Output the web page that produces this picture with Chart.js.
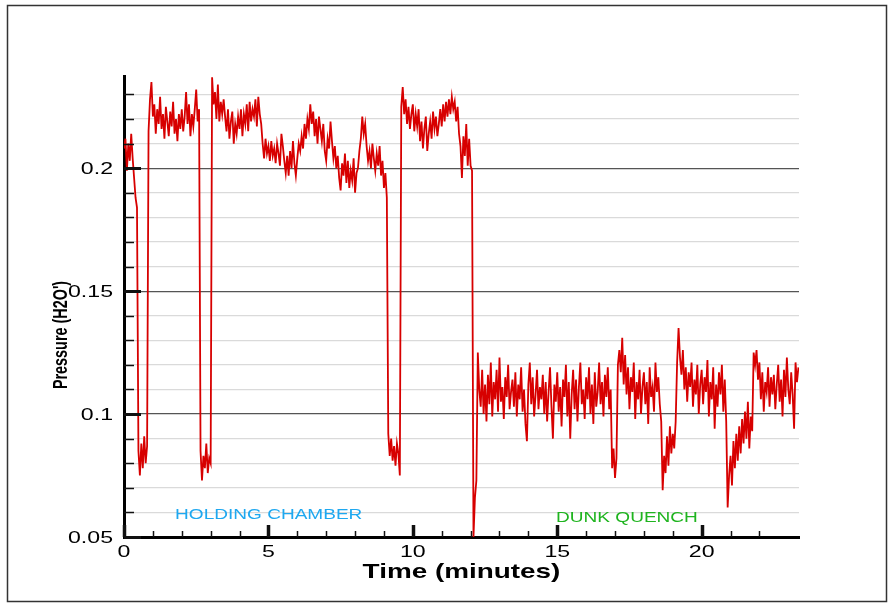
<!DOCTYPE html>
<html>
<head>
<meta charset="utf-8">
<script src="https://cdn.jsdelivr.net/npm/chart.js@4/dist/chart.umd.min.js"></script>
<style>
  body { margin: 0; background: #fff; }
  canvas { display: block; }
</style>
</head>
<body>
<canvas id="chart" width="896" height="605"></canvas>
<script>
const sampleStep = 0.05;
const pressure = [
  0.208,0.212,0.199,0.210,0.203,0.214,0.204,0.196,0.188,0.184,
  0.085,0.075,0.088,0.078,0.091,0.080,0.087,0.215,0.228,0.235,
  0.221,0.226,0.214,0.224,0.218,0.229,0.216,0.222,0.212,0.225,
  0.219,0.213,0.223,0.217,0.227,0.214,0.220,0.211,0.222,0.216,
  0.224,0.215,0.221,0.231,0.218,0.226,0.213,0.222,0.217,0.224,
  0.232,0.219,0.224,0.085,0.073,0.083,0.078,0.088,0.076,0.082,
  0.080,0.237,0.226,0.231,0.220,0.234,0.219,0.227,0.222,0.228,
  0.221,0.215,0.224,0.212,0.219,0.223,0.210,0.218,0.214,0.221,
  0.216,0.224,0.213,0.222,0.218,0.226,0.215,0.227,0.219,0.224,
  0.221,0.228,0.217,0.229,0.222,0.218,0.210,0.204,0.212,0.206,
  0.209,0.203,0.211,0.205,0.208,0.202,0.210,0.206,0.201,0.214,
  0.209,0.203,0.198,0.205,0.197,0.207,0.200,0.211,0.202,0.197,
  0.204,0.210,0.207,0.213,0.208,0.218,0.212,0.220,0.216,0.226,
  0.218,0.223,0.213,0.220,0.210,0.221,0.216,0.211,0.218,0.207,
  0.203,0.212,0.208,0.219,0.211,0.204,0.209,0.200,0.205,0.196,
  0.191,0.202,0.197,0.206,0.194,0.203,0.192,0.199,0.195,0.204,
  0.190,0.198,0.200,0.207,0.212,0.221,0.214,0.218,0.209,0.203,
  0.207,0.200,0.210,0.204,0.199,0.206,0.201,0.209,0.197,0.203,
  0.192,0.198,0.188,0.092,0.083,0.090,0.081,0.087,0.079,0.088,
  0.084,0.075,0.225,0.233,0.222,0.228,0.218,0.225,0.216,0.222,
  0.226,0.215,0.222,0.217,0.224,0.211,0.219,0.208,0.216,0.221,
  0.207,0.214,0.219,0.212,0.223,0.216,0.221,0.213,0.218,0.224,
  0.217,0.226,0.219,0.227,0.221,0.228,0.222,0.229,0.224,0.227,
  0.219,0.225,0.214,0.209,0.196,0.213,0.205,0.218,0.201,0.212,
  0.201,0.199,0.050,0.066,0.073,0.125,0.110,0.103,0.118,0.100,
  0.112,0.097,0.116,0.104,0.121,0.099,0.113,0.106,0.118,0.101,
  0.123,0.105,0.111,0.098,0.115,0.107,0.120,0.102,0.109,0.114,
  0.103,0.117,0.099,0.112,0.106,0.119,0.101,0.110,0.096,0.089,
  0.112,0.121,0.104,0.115,0.099,0.108,0.118,0.102,0.111,0.106,
  0.116,0.100,0.113,0.097,0.109,0.119,0.103,0.090,0.112,0.105,
  0.117,0.101,0.111,0.095,0.114,0.107,0.120,0.099,0.113,0.090,
  0.108,0.118,0.102,0.114,0.097,0.111,0.121,0.104,0.110,0.098,
  0.115,0.106,0.119,0.100,0.112,0.096,0.117,0.103,0.109,0.121,
  0.104,0.113,0.099,0.116,0.107,0.119,0.102,0.110,0.078,0.086,
  0.074,0.082,0.120,0.126,0.117,0.131,0.112,0.124,0.108,0.119,
  0.102,0.115,0.109,0.121,0.098,0.113,0.106,0.118,0.100,0.111,
  0.117,0.104,0.113,0.096,0.119,0.107,0.111,0.101,0.121,0.109,
  0.115,0.104,0.097,0.069,0.083,0.076,0.091,0.079,0.095,0.084,
  0.092,0.086,0.097,0.121,0.135,0.123,0.116,0.126,0.110,0.119,
  0.105,0.117,0.111,0.121,0.103,0.114,0.108,0.120,0.100,0.112,
  0.118,0.104,0.115,0.109,0.122,0.099,0.113,0.106,0.119,0.094,
  0.112,0.103,0.117,0.108,0.120,0.101,0.114,0.097,0.062,0.075,
  0.083,0.071,0.089,0.078,0.092,0.081,0.095,0.084,0.098,0.088,
  0.101,0.090,0.105,0.086,0.099,0.093,0.125,0.120,0.126,0.114,
  0.121,0.106,0.117,0.101,0.113,0.109,0.119,0.103,0.115,0.108,
  0.116,0.102,0.112,0.120,0.105,0.114,0.099,0.118,0.107,0.123,
  0.110,0.104,0.117,0.108,0.094,0.121,0.113,0.119
];

const xLabelTicks = [0, 5, 10, 15, 20];
const yLabelTicks = [0.05, 0.1, 0.15, 0.2];
const yLabelText = ['0.05', '0.1', '0.15', '0.2'];

// text notes on the plot: label, time (min), pressure
const noteText = ['HOLDING CHAMBER', 'DUNK QUENCH'];
const noteTime = [1.77, 14.96];
const noteValue = [0.0573, 0.0563];
const noteColor = ['#1ea8f0', '#1fb41f'];

const FONT = '"Liberation Sans", Arial, Helvetica, sans-serif';
const STRETCH = 1.36; // glyphs in the original are wider than tall

function isMultiple(v, step) {
    const k = v / step;
    return Math.abs(k - Math.round(k)) < 1e-6;
}

function drawText(ctx, text, x, y, font, color, align, baseline, rotate) {
    ctx.save();
    ctx.font = font;
    ctx.fillStyle = color;
    ctx.textAlign = align;
    ctx.textBaseline = baseline;
    ctx.translate(x, y);
    ctx.scale(STRETCH, 1);
    if (rotate) ctx.rotate(-Math.PI / 2);
    ctx.fillText(text, 0, 0);
    ctx.restore();
}

// inward ticks, labels, titles, notes and frame
const decorations = {
    id: 'decorations',
    afterDraw(chart) {
        const ctx = chart.ctx;
        const xs = chart.scales.x;
        const ys = chart.scales.y;
        const area = chart.chartArea;

        ctx.save();
        ctx.strokeStyle = '#111';
        ctx.lineCap = 'butt';
        ys.ticks.forEach(t => {
            if (!isMultiple(t.value, 0.01)) return;
            const y = Math.round(ys.getPixelForValue(t.value)) + 0.5;
            const major = isMultiple(t.value, 0.05);
            ctx.lineWidth = major ? 3 : 1.5;
            ctx.beginPath();
            ctx.moveTo(area.left, y);
            ctx.lineTo(area.left + (major ? 17 : 10), y);
            ctx.stroke();
        });
        xs.ticks.forEach(t => {
            if (!isMultiple(t.value, 1)) return;
            const x = Math.round(xs.getPixelForValue(t.value)) + 0.5;
            const major = isMultiple(t.value, 5);
            ctx.lineWidth = major ? 3.5 : 1.5;
            ctx.beginPath();
            ctx.moveTo(x, area.bottom);
            ctx.lineTo(x, area.bottom - (major ? 12 : 6));
            ctx.stroke();
        });
        ctx.restore();

        yLabelTicks.forEach((v, i) => {
            drawText(ctx, yLabelText[i], 113, ys.getPixelForValue(v) + 6,
                '17px ' + FONT, '#000', 'right', 'alphabetic', false);
        });
        xLabelTicks.forEach(v => {
            drawText(ctx, String(v), xs.getPixelForValue(v), 557,
                '17px ' + FONT, '#000', 'center', 'alphabetic', false);
        });

        drawText(ctx, 'Time (minutes)', (area.left + area.right) / 2, 578,
            'bold 20.5px ' + FONT, '#000', 'center', 'alphabetic', false);
        drawText(ctx, "Pressure (H2O')", 62, 335,
            'bold 14.4px ' + FONT, '#000', 'center', 'middle', true);

        noteText.forEach((txt, i) => {
            drawText(ctx, txt, xs.getPixelForValue(noteTime[i]), ys.getPixelForValue(noteValue[i]),
                '14px ' + FONT, noteColor[i], 'left', 'alphabetic', false);
        });

        ctx.save();
        ctx.strokeStyle = '#333';
        ctx.lineWidth = 1.5;
        ctx.strokeRect(7.5, 5.5, 879, 596);
        ctx.restore();
    }
};

const points = pressure.map((p, i) => ({ x: i * sampleStep, y: p }));

new Chart(document.getElementById('chart'), {
    type: 'line',
    data: {
        datasets: [{
            data: points,
            borderColor: '#d70000',
            borderWidth: 1.8,
            pointRadius: 0,
            tension: 0,
            fill: false
        }]
    },
    options: {
        responsive: false,
        animation: false,
        devicePixelRatio: 1,
        layout: { padding: { left: 0, top: 76, right: 97, bottom: 0 } },
        plugins: {
            legend: { display: false },
            tooltip: { enabled: false }
        },
        scales: {
            x: {
                type: 'linear',
                min: 0,
                max: 23.37,
                ticks: { display: false, stepSize: 1 },
                grid: { display: false },
                border: { display: true, color: '#000', width: 3 },
                afterFit(scale) { scale.height = 68; }
            },
            y: {
                type: 'linear',
                min: 0.05,
                max: 0.2375,
                ticks: { display: false, stepSize: 0.01 },
                grid: {
                    drawTicks: false,
                    lineWidth: 1.2,
                    color(c) {
                        const v = c.tick.value;
                        if (!isMultiple(v, 0.01)) return 'rgba(0,0,0,0)';
                        return isMultiple(v, 0.05) ? '#555' : '#dadada';
                    }
                },
                border: { display: true, color: '#000', width: 3 },
                afterFit(scale) { scale.width = 124; }
            }
        }
    },
    plugins: [decorations]
});
</script>
</body>
</html>
